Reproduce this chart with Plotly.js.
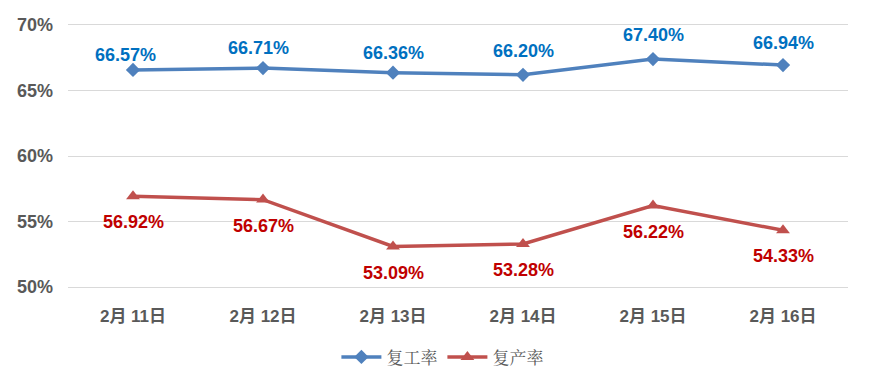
<!DOCTYPE html>
<html><head><meta charset="utf-8">
<script src="https://cdn.plot.ly/plotly-3.0.1.min.js"></script>
<style>body{margin:0;background:#fff}#c{width:872px;height:387px}</style>
</head><body><div id="c"></div>
<script>
const categories = ["2月 11日","2月 12日","2月 13日","2月 14日","2月 15日","2月 16日"];
const workRate = [66.57, 66.71, 66.36, 66.20, 67.40, 66.94];
const prodRate = [56.92, 56.67, 53.09, 53.28, 56.22, 54.33];
const seriesNames = ["复工率","复产率"];
const yTicks = [50,55,60,65,70];

// label placement (pixels), as in the reference
const workLabelDy = [15, 20, 20, 24, 24, 22];
const workLabelDx = [-8, -5, 0, 0, 0, 0];
const prodLabelDy = -26;

const lblFont = "Liberation Sans, Arial, sans-serif";
const traces = [
  {x: categories, y: workRate, name: seriesNames[0], type: "scatter", mode: "lines+markers",
   line: {color: "#4F81BD", width: 3.5}, marker: {symbol: "diamond", size: 11, color: "#4F81BD"}, cliponaxis: false},
  {x: categories, y: prodRate, name: seriesNames[1], type: "scatter", mode: "lines+markers",
   line: {color: "#C0504D", width: 3.5}, marker: {symbol: "triangle-up", size: 12, color: "#C0504D"}, cliponaxis: false}
];
const annotations = [];
categories.forEach((c, i) => {
  annotations.push({x: c, y: workRate[i], text: workRate[i].toFixed(2) + "%", showarrow: false,
    yanchor: "middle", yshift: workLabelDy[i], xshift: workLabelDx[i],
    font: {family: lblFont, size: 18, color: "#0070C0", weight: "bold"}});
  annotations.push({x: c, y: prodRate[i], text: prodRate[i].toFixed(2) + "%", showarrow: false,
    yanchor: "middle", yshift: prodLabelDy, font: {family: lblFont, size: 18, color: "#C00000", weight: "bold"}});
});
const layout = {
  width: 872, height: 387,
  margin: {l: 68, r: 24, t: 25, b: 97},
  paper_bgcolor: "#fff", plot_bgcolor: "#fff",
  showlegend: true,
  annotations: annotations,
  legend: {orientation: "h", x: 0.48, xanchor: "center", y: -0.2, yanchor: "top",
           itemwidth: 40,
           font: {family: "AR PL UMing CN, Noto Serif CJK SC, Noto Sans CJK SC, serif", size: 17, color: "#595959"}},
  xaxis: {type: "category", range: [-0.5, 5.5], showgrid: false, zeroline: false,
          showline: true, mirror: true, linecolor: "#D9D9D9", linewidth: 1, ticks: "",
          ticklabelstandoff: 14,
          tickfont: {family: "Liberation Sans, Noto Sans CJK SC, sans-serif", size: 17, color: "#595959", weight: "bold"}},
  yaxis: {range: [50, 70], tickvals: yTicks, ticktext: yTicks.map(v => v + "%"),
          showgrid: true, gridcolor: "#D9D9D9", gridwidth: 1, zeroline: false, showline: false,
          ticks: "", ticklabelstandoff: 14,
          tickfont: {family: lblFont, size: 18, color: "#595959", weight: "bold"}}
};
Plotly.newPlot("c", traces, layout, {displayModeBar: false, staticPlot: true});
</script></body></html>
